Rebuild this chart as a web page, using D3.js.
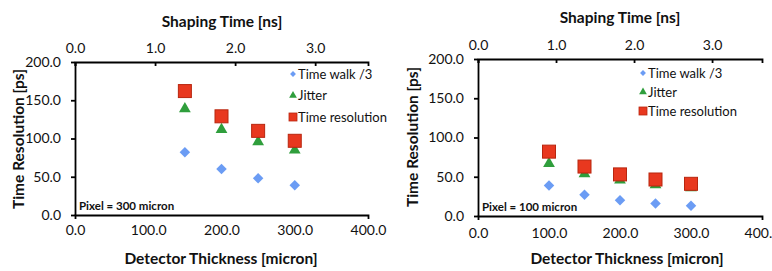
<!DOCTYPE html>
<html>
<head>
<meta charset="utf-8">
<script src="https://cdn.jsdelivr.net/npm/d3@7"></script>
<style>
  body { margin: 0; background: #fff; }
  svg { display: block; font-family: Lato, "DejaVu Sans", sans-serif; }
  .axis path, .axis line { stroke: #000; stroke-width: 1.8; }
  .axis text { font-size: 14px; fill: #111; font-family: Lato, sans-serif; }
  .title { font-size: 15.5px; font-weight: bold; fill: #111; }
  .legend text { font-size: 13px; fill: #111; }
</style>
</head>
<body>
<div id="chart"></div>
<script>
// Dados (ps)
const thicknessLeft = [150, 200, 250, 300];
const timeWalkLeft = [82, 60, 48, 39];
const jitterLeft = [140, 113, 97, 86];
const timeResLeft = [162, 129, 110, 97];

const thicknessRight = [100, 150, 200, 250, 300];
const timeWalkRight = [39, 27, 20, 16, 13];
const jitterRight = [68, 55, 47, 41, 37];
const timeResRight = [82, 63, 53, 46.5, 41];

const xTicks = [0, 100, 200, 300, 400];
const yTicks = [0, 50, 100, 150, 200];
const topTicks = [0, 1, 2, 3];
const seriesNames = ['Time walk /3', 'Jitter', 'Time resolution'];

const colors = { walk: '#6b9cf4', jitter: '#2f9e3c', res: '#e8381f', resStroke: '#b8260f' };

const svg = d3.select('#chart').append('svg')
  .attr('width', 772)
  .attr('height', 271);

const fmt = d3.format('.1f');

function drawPanel(cfg) {
  const x = d3.scaleLinear().domain([0, 400]).range([cfg.x0, cfg.x1]);
  const y = d3.scaleLinear().domain([0, 200]).range([cfg.y1, cfg.y0]);
  const xTop = d3.scaleLinear().domain([0, cfg.topMax]).range([cfg.x0, cfg.x1]);

  // Eixo inferior
  const gb = svg.append('g').attr('class', 'axis')
    .attr('transform', `translate(0,${cfg.y1})`)
    .call(d3.axisBottom(x).tickValues(xTicks).tickFormat(fmt).tickSize(0).tickSizeOuter(4).tickPadding(cfg.bottomPad));

  // Eixo esquerdo
  svg.append('g').attr('class', 'axis')
    .attr('transform', `translate(${cfg.x0},0)`)
    .call(d3.axisLeft(y).tickValues(yTicks).tickFormat(fmt).tickSize(4).tickSizeOuter(0).tickPadding(10));

  // Eixo superior (tempo de formação)
  svg.append('g').attr('class', 'axis')
    .attr('transform', `translate(0,${cfg.y0})`)
    .call(d3.axisTop(xTop).tickValues(topTicks).tickFormat(fmt).tickSize(-4).tickSizeOuter(-4).tickPadding(cfg.topPad));

  // Títulos
  svg.append('text').attr('class', 'title')
    .attr('x', cfg.topTitleX).attr('y', cfg.topTitleY)
    .attr('text-anchor', 'middle').text('Shaping Time [ns]');
  svg.append('text').attr('class', 'title')
    .attr('x', cfg.bottomTitleX).attr('y', cfg.bottomTitleY)
    .attr('text-anchor', 'middle').text('Detector Thickness [micron]');
  svg.append('text').attr('class', 'title')
    .attr('transform', `translate(${cfg.yTitleX},${cfg.yTitleY}) rotate(-90)`)
    .attr('text-anchor', 'middle').text('Time Resolution [ps]');

  svg.append('text')
    .attr('x', cfg.x0 + 4).attr('y', cfg.y1 - 5)
    .style('font-size', '11.5px').style('font-weight', 'bold').style('fill', '#111')
    .text(cfg.pixel);

  const g = svg.append('g');
  const walkData = cfg.thick.map((t, i) => ({ t, v: cfg.walk[i] }));
  const jitData = cfg.thick.map((t, i) => ({ t, v: cfg.jitter[i] }));
  const resData = cfg.thick.map((t, i) => ({ t, v: cfg.res[i] }));

  g.selectAll('.walk').data(walkData).enter().append('path')
    .attr('d', d3.symbol(d3.symbolDiamond2, 70)())
    .attr('transform', d => `translate(${x(d.t)},${y(d.v)})`)
    .attr('fill', colors.walk);

  g.selectAll('.jit').data(jitData).enter().append('path')
    .attr('d', d3.symbol(d3.symbolTriangle, 60)())
    .attr('transform', d => `translate(${x(d.t)},${y(d.v) + 1})`)
    .attr('fill', colors.jitter);

  g.selectAll('.res').data(resData).enter().append('rect')
    .attr('x', d => x(d.t) - 6.5).attr('y', d => y(d.v) - 6.5)
    .attr('width', 13).attr('height', 13)
    .attr('fill', colors.res).attr('stroke', colors.resStroke).attr('stroke-width', 1);

  // Legenda
  const lg = svg.append('g').attr('class', 'legend');
  seriesNames.forEach((name, i) => {
    const ly = cfg.legY + i * cfg.legStep;
    if (i === 0) {
      lg.append('path').attr('d', d3.symbol(d3.symbolDiamond2, 22)())
        .attr('transform', `translate(${cfg.legX},${ly})`).attr('fill', colors.walk);
    } else if (i === 1) {
      lg.append('path').attr('d', d3.symbol(d3.symbolTriangle, 26)())
        .attr('transform', `translate(${cfg.legX},${ly})`).attr('fill', colors.jitter);
    } else {
      lg.append('rect').attr('x', cfg.legX - 4).attr('y', ly - 4).attr('width', 8).attr('height', 8)
        .attr('fill', colors.res).attr('stroke', colors.resStroke).attr('stroke-width', 0.8);
    }
    lg.append('text').attr('x', cfg.legX + 5).attr('y', ly + 4.5).text(name);
  });
}

drawPanel({
  x0: 75, x1: 368, y0: 62, y1: 215, topMax: 3.66,
  bottomPad: 10, topPad: 9,
  topTitleX: 222, topTitleY: 27,
  bottomTitleX: 221, bottomTitleY: 264,
  yTitleX: 24, yTitleY: 139,
  pixel: 'Pixel = 300 micron',
  thick: thicknessLeft, walk: timeWalkLeft, jitter: jitterLeft, res: timeResLeft,
  legX: 293, legY: 74, legStep: 21.5
});

drawPanel({
  x0: 478, x1: 762, y0: 59, y1: 216, topMax: 3.64,
  bottomPad: 12, topPad: 9,
  topTitleX: 620, topTitleY: 23,
  bottomTitleX: 627, bottomTitleY: 264,
  yTitleX: 418, yTitleY: 137,
  pixel: 'Pixel = 100 micron',
  thick: thicknessRight, walk: timeWalkRight, jitter: jitterRight, res: timeResRight,
  legX: 643, legY: 73, legStep: 19
});
</script>
</body>
</html>
